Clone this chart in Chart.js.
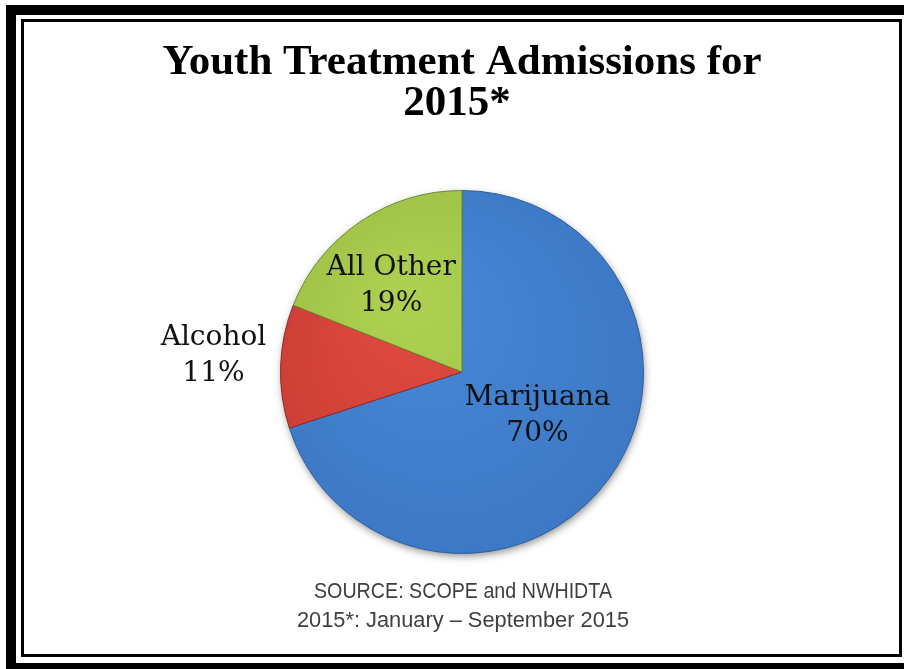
<!DOCTYPE html>
<html>
<head>
<meta charset="utf-8">
<script src="https://cdn.jsdelivr.net/npm/chart.js@4"></script>
<style>
  html, body { margin: 0; padding: 0; background: #fff; }
  body { width: 904px; height: 669px; position: relative; overflow: hidden; }
  .frame-outer { position: absolute; left: 6px; top: 5px; width: 1000px; height: 648px; border: 10px solid #000; }
  .frame-inner { position: absolute; left: 21px; top: 19px; width: 875px; height: 632px; border: 3.5px solid #000; }
  #chart { position: absolute; left: 0; top: 0; }
</style>
</head>
<body>
<div class="frame-outer"></div>
<div class="frame-inner"></div>
<canvas id="chart" width="904" height="669"></canvas>
<script>
// 数据
const categories = ['Marijuana', 'Alcohol', 'All Other'];
const shares = [70, 11, 19];
const titleLines = ['Youth Treatment Admissions for', '2015*'];
const sourceLines = ['SOURCE: SCOPE and NWHIDTA', '2015*: January \u2013 September 2015'];

// 颜色 (浅色 -> 深色)
const sliceColors = [
    ['#4789d8', '#3c77c3'],
    ['#e24b40', '#c93d34'],
    ['#aed152', '#9dc046']
];
const sliceBorders = ['#2f5f9e', '#8e2a24', '#6f8a2e'];

// 标签位置: 半径比例 + 微调
const labelPlacement = [
    { r: 0.48, dx: 5, dy: -7 },
    { r: 1.37, dx: 0, dy: -8 },
    { r: 0.616, dx: -8, dy: 6 }
];

function sliceGradient(context) {
    const chart = context.chart;
    const area = chart.chartArea;
    const pair = sliceColors[context.dataIndex];
    if (!area) return pair[0];
    const cx = (area.left + area.right) / 2;
    const cy = (area.top + area.bottom) / 2;
    const r = Math.min(area.width, area.height) / 2;
    const g = chart.ctx.createRadialGradient(cx - r * 0.35, cy - r * 0.45, 0, cx, cy, r * 1.15);
    g.addColorStop(0, pair[0]);
    g.addColorStop(1, pair[1]);
    return g;
}

// 阴影
const pieShadow = {
    id: 'pieShadow',
    beforeDatasetsDraw(chart) {
        const arc = chart.getDatasetMeta(0).data[0];
        if (!arc) return;
        const ctx = chart.ctx;
        ctx.save();
        ctx.shadowColor = 'rgba(0,0,0,0.5)';
        ctx.shadowBlur = 8;
        ctx.shadowOffsetX = 1;
        ctx.shadowOffsetY = 3;
        ctx.fillStyle = '#3c77c3';
        ctx.beginPath();
        ctx.arc(arc.x, arc.y, arc.outerRadius - 1, 0, Math.PI * 2);
        ctx.fill();
        ctx.restore();
    }
};

// 文字: 标题, 来源, 扇区标签
const textPlugin = {
    id: 'textPlugin',
    afterDraw(chart) {
        const ctx = chart.ctx;
        ctx.save();
        ctx.textAlign = 'center';
        ctx.textBaseline = 'alphabetic';

        ctx.fillStyle = '#000';
        ctx.font = 'bold 43px "Liberation Serif", serif';
        ctx.fillText(titleLines[0], 462, 74, 616);
        ctx.fillText(titleLines[1], 457, 115);

        ctx.fillStyle = '#404040';
        ctx.font = '22px "Liberation Sans", sans-serif';
        ctx.fillText(sourceLines[0], 463, 598, 298);
        ctx.fillText(sourceLines[1], 463, 627, 332);

        ctx.fillStyle = '#111';
        ctx.font = '28px "DejaVu Serif", serif';
        ctx.textBaseline = 'middle';
        chart.getDatasetMeta(0).data.forEach((arc, i) => {
            const p = labelPlacement[i];
            const mid = (arc.startAngle + arc.endAngle) / 2;
            const x = arc.x + Math.cos(mid) * arc.outerRadius * p.r + p.dx;
            const y = arc.y + Math.sin(mid) * arc.outerRadius * p.r + p.dy;
            ctx.fillText(categories[i], x, y - 18);
            ctx.fillText(shares[i] + '%', x, y + 18);
        });
        ctx.restore();
    }
};

new Chart(document.getElementById('chart'), {
    type: 'pie',
    data: {
        labels: categories,
        datasets: [{
            data: shares,
            backgroundColor: sliceGradient,
            borderColor: sliceBorders,
            borderWidth: 1
        }]
    },
    options: {
        responsive: false,
        animation: false,
        layout: { padding: { top: 190, bottom: 115, left: 20, right: 0 } },
        plugins: {
            legend: { display: false },
            tooltip: { enabled: false },
            title: { display: false }
        }
    },
    plugins: [pieShadow, textPlugin]
});
</script>
</body>
</html>
